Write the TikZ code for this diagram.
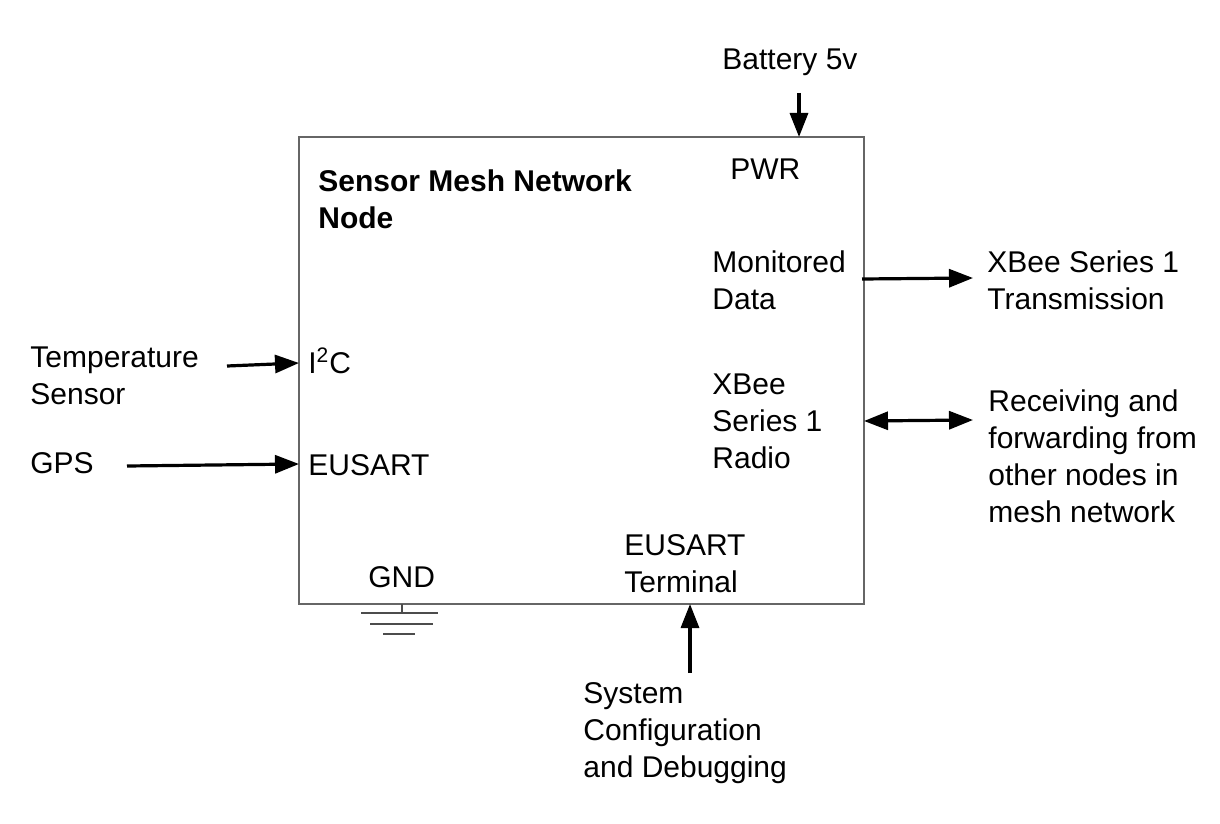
\documentclass[tikz,border=0pt]{standalone}
\usepackage{fontspec}
\setmainfont{Liberation Sans}
\usetikzlibrary{shapes,arrows.meta,positioning}

\tikzset{
	lbl/.style={anchor=north west, inner sep=0pt, align=left, font=\fontsize{15pt}{18.5pt}\selectfont},
	sig/.style={line width=1.6pt, -{Triangle[length=12pt,width=9pt]}},
	gnd/.style={line width=0.8pt, draw=black!70}
}

\begin{document}
\begin{tikzpicture}[x=0.5pt,y=-0.5pt]
	\useasboundingbox (0,0) rectangle (1220,824);

	% the board
	\node[draw=black!60, line width=1pt, minimum width=282.5pt, minimum height=233.5pt, inner sep=0pt] (mcu) at (581.5,370.5) {};

	% labels inside
	\node[lbl, font=\fontsize{15pt}{18.5pt}\selectfont\bfseries] (title) at (318,169) {Sensor Mesh Network\\Node};
	\node[lbl] (pwr) at (730,158) {PWR};
	\node[lbl] (mon) at (712,250) {Monitored\\Data};
	\node[lbl, anchor=base west] (i2c) at (308,373) {I\textsuperscript{2}C};
	\node[lbl] (radio) at (712,373) {XBee\\Series 1\\Radio};
	\node[lbl] (eusart) at (308,454) {EUSART};
	\node[lbl] (term) at (624,534) {EUSART\\Terminal};
	\node[lbl] (gndtxt) at (368,566) {GND};

	% labels outside
	\node[lbl] (batt) at (722,48) {Battery 5v};
	\node[lbl] (temp) at (30,346) {Temperature\\Sensor};
	\node[lbl] (gps) at (30,452) {GPS};
	\node[lbl] (xmit) at (987,250) {XBee Series 1\\Transmission};
	\node[lbl] (recv) at (988,389) {Receiving and\\forwarding from\\other nodes in\\mesh network};
	\node[lbl] (debug) at (583,682) {System\\Configuration\\and Debugging};

	% arrow ends
	\coordinate (battout) at (799,93);
	\coordinate (battin) at (799,137);
	\coordinate (tempout) at (227,366);
	\coordinate (tempin) at (299,363);
	\coordinate (gpsout) at (127,466);
	\coordinate (gpsin) at (299,464);
	\coordinate (monout) at (862,279);
	\coordinate (monin) at (973,278);
	\coordinate (radioa) at (864,421);
	\coordinate (radiob) at (973,420);
	\coordinate (dbgout) at (690,673);
	\coordinate (dbgin) at (690,604);

	\path [sig]
	(battout) edge (battin)
	(tempout) edge (tempin)
	(gpsout) edge (gpsin)
	(monout) edge (monin)
	(dbgout) edge (dbgin);
	\draw[sig, {Triangle[length=12pt,width=9pt]}-{Triangle[length=12pt,width=9pt]}] (radioa) -- (radiob);

	% ground
	\coordinate (g0) at (402,604);
	\coordinate (g1) at (402,613);
	\draw[gnd] (g0) -- (g1);
	\draw[gnd] (361,613) -- (438,613);
	\draw[gnd] (370,624) -- (433,624);
	\draw[gnd] (383,634) -- (415,634);
\end{tikzpicture}
\end{document}
